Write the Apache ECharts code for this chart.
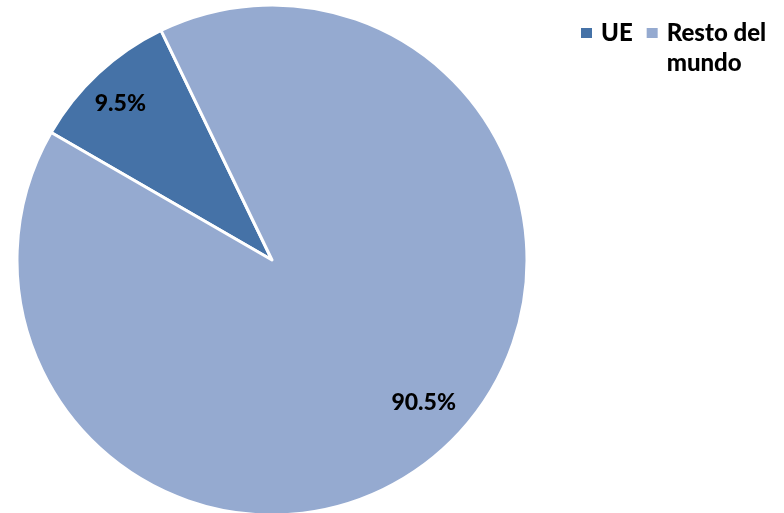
<!DOCTYPE html>
<html><head><meta charset="utf-8">
<script src="https://cdn.jsdelivr.net/npm/echarts@6/dist/echarts.min.js"></script>
<style>html,body{margin:0;padding:0;background:#fff}#c{width:784px;height:513px}</style>
</head><body><div id="c"></div>
<script>
const categories = ['UE', 'Resto del mundo'];
const values = [9.5, 90.5];
const colors = ['#4572A7', '#95AAD0'];

const data = categories.map((n, i) => ({ name: n, value: values[i], itemStyle: { color: colors[i] } }));
const font = 'Lato, "Open Sans", sans-serif';
// legend marker: square at the top-left of a taller box, so it lines up with the first text line
const topSquare = 'path://M0,0H11V10H0Z M15,40L15.01,40L15,40.01Z';
const chart = echarts.init(document.getElementById('c'));
chart.setOption({
  animation: false,
  legend: {
    left: 581, top: 18, padding: 0, itemWidth: 15, itemHeight: 40, itemGap: 14, icon: topSquare,
    itemStyle: { borderWidth: 0 },
    textStyle: { fontFamily: font, fontWeight: 900, fontSize: 24, color: '#000', lineHeight: 30 },
    formatter: n => n === 'Resto del mundo' ? 'Resto del\nmundo' : n + '\n ',
    data: categories
  },
  series: [{
    type: 'pie', center: [272, 260], radius: 255, startAngle: 150, clockwise: true,
    itemStyle: { borderColor: '#fff', borderWidth: 3 },
    label: { show: false }, labelLine: { show: false }, silent: true,
    data: data
  }, {
    type: 'pie', center: [272, 260], radius: [166, 254], startAngle: 152.5, clockwise: true,
    itemStyle: { color: 'transparent', borderWidth: 0 }, silent: true, legendHoverLink: false,
    label: { show: true, position: 'inside', offset: [0, -7], formatter: p => p.value.toFixed(1) + '%',
      fontFamily: font, fontWeight: 900, fontSize: 23, color: '#000' },
    labelLine: { show: false },
    data: categories.map((n, i) => ({ name: n + ' ', value: values[i] }))
  }]
});
</script></body></html>
